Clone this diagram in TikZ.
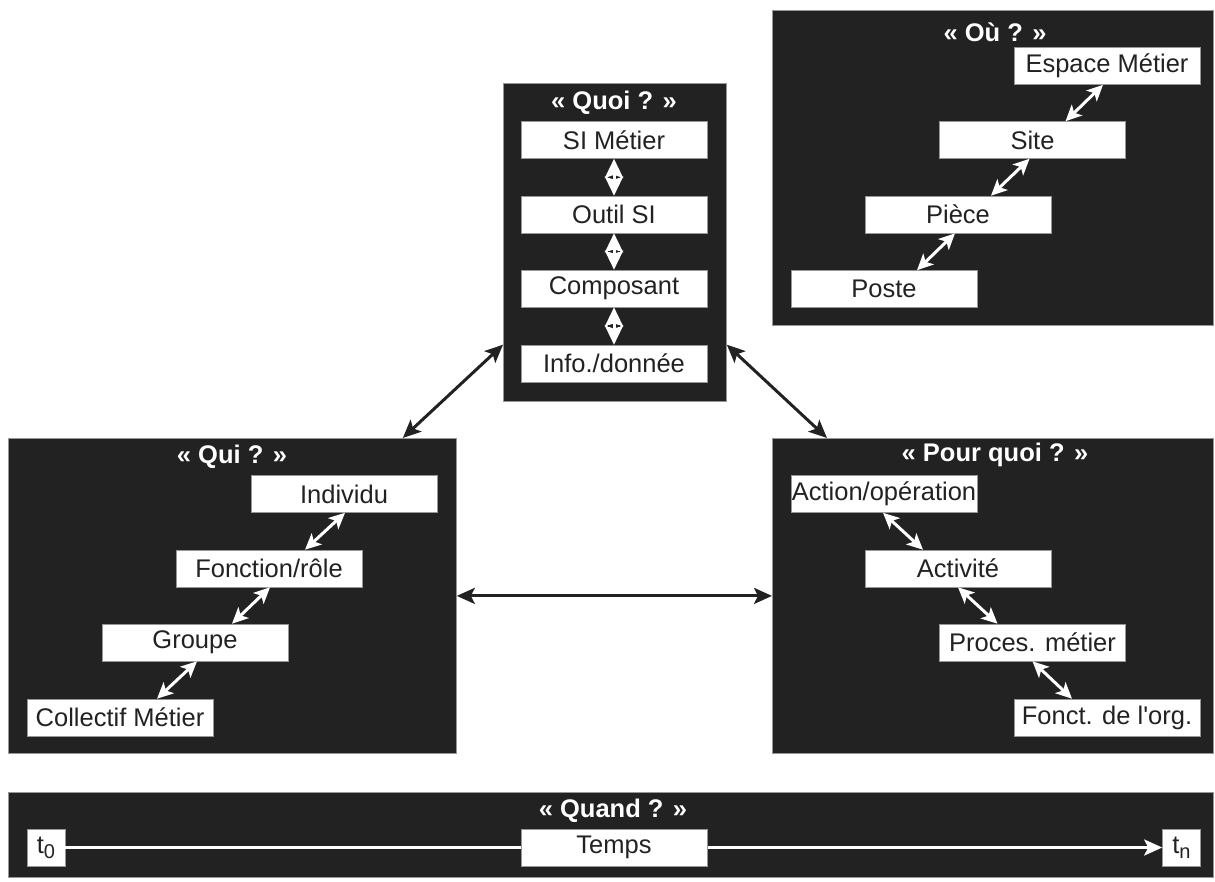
\documentclass[tikz,border=0pt]{standalone}
\usepackage{fontspec}
\setmainfont{Liberation Sans}[Ligatures=TeXOff]
\usetikzlibrary{arrows.meta,calc}
\definecolor{panelc}{RGB}{34,34,34}
\definecolor{edgec}{RGB}{150,150,150}
\begin{document}
\begin{tikzpicture}[x=1pt,y=-1pt,
  panel/.style={fill=panelc,draw=edgec,line width=0.8pt,anchor=north west,inner sep=0pt},
  item/.style={fill=white,draw=edgec,line width=0.6pt,minimum width=186pt,minimum height=37pt,inner sep=0pt,text=panelc,font=\fontsize{25.5}{28}\selectfont},
  tbox/.style={fill=white,draw=edgec,line width=0.6pt,minimum width=38pt,minimum height=37pt,inner sep=0pt,text=panelc,font=\fontsize{25.5}{28}\selectfont},
  ttl/.style={text=white,font=\fontsize{25.5}{28}\selectfont\bfseries,inner sep=0pt},
  warrow/.style={draw=white,line width=3pt,{Stealth[length=16pt,width=15pt,inset=4pt]}-{Stealth[length=16pt,width=15pt,inset=4pt]}},
  wvarrow/.style={draw=white,line width=3pt,{Stealth[length=19pt,width=18pt,inset=3pt]}-{Stealth[length=19pt,width=18pt,inset=3pt]}},
  barrow/.style={draw=panelc,line width=3pt,{Stealth[length=18pt,width=16pt,inset=4pt]}-{Stealth[length=18pt,width=16pt,inset=4pt]}},
  tarrow/.style={draw=white,line width=3pt,-{Stealth[length=18pt,width=16pt,inset=4pt]}},
  dashmark/.style={draw=panelc,line width=1.3pt}
]
\useasboundingbox (0,0) rectangle (1215,881);

% panels
\node[panel,minimum width=223pt,minimum height=318pt] (quoi) at (503,83) {};
\node[panel,minimum width=441pt,minimum height=315pt] (ou) at (772,10) {};
\node[panel,minimum width=448pt,minimum height=315pt] (qui) at (8,438) {};
\node[panel,minimum width=441pt,minimum height=315pt] (pq) at (772,438) {};
\node[panel,minimum width=1205pt,minimum height=85pt] (quand) at (8,792) {};

% titles
\node[ttl] (tquoi) at (614,103) {« Quoi ? »};
\node[ttl] (tou) at (995,32) {« Où ? »};
\node[ttl] (tqui) at (232,457) {« Qui ? »};
\node[ttl] (tpq) at (995,455) {« Pour quoi ? »};
\node[ttl] (tquand) at (613,811) {« Quand ? »};

% Quoi items
\node[item] (si) at (614,140) {SI Métier};
\node[item] (outil) at (614,214.5) {Outil SI};
\node[item] (comp) at (614,288.5) {Composant};
\node[item] (info) at (614,363.5) {Info./donnée};

% Ou items
\node[item] (esp) at (1107,66) {Espace Métier};
\node[item] (site) at (1032.5,140) {Site};
\node[item] (piece) at (958,214.5) {Pièce};
\node[item] (poste) at (884,289) {Poste};

% Qui items
\node[item] (indiv) at (344,494) {Individu};
\node[item] (fonc) at (269,568.5) {Fonction/rôle};
\node[item] (groupe) at (195,642.5) {Groupe};
\node[item] (coll) at (120,717.5) {Collectif Métier};

% Pour quoi items
\node[item] (action) at (884,494) {Action/opération};
\node[item] (activ) at (958,568.5) {Activité};
\node[item] (proces) at (1032.5,642.5) {Proces. métier};
\node[item] (forg) at (1107,717.5) {Fonct. de l'org.};

% Quoi vertical arrows
\foreach \a/\b/\m in {si/outil/m1,outil/comp/m2,comp/info/m3}{
  \draw[wvarrow] (\a.south) -- (\b.north);
  \coordinate (\m) at ($(\a.south)!0.5!(\b.north)$);
  \draw[dashmark] ([xshift=-6pt]\m) -- ([xshift=-2pt]\m) ([xshift=2pt]\m) -- ([xshift=6pt]\m);
}

% Ou diagonal arrows
\draw[warrow] ([xshift=33pt]site.north) -- ([xshift=-4pt]esp.south);
\draw[warrow] ([xshift=33pt]piece.north) -- ([xshift=-3pt]site.south);
\draw[warrow] ([xshift=33pt]poste.north) -- ([xshift=-3pt]piece.south);

% Qui diagonal arrows
\draw[warrow] ([xshift=36pt]fonc.north) -- ([xshift=1pt]indiv.south);
\draw[warrow] ([xshift=37pt]groupe.north) -- ([xshift=1pt]fonc.south);
\draw[warrow] ([xshift=37pt]coll.north) -- ([xshift=2pt]groupe.south);

% Pour quoi diagonal arrows
\draw[warrow] ([xshift=-1pt]action.south) -- ([xshift=-35pt]activ.north);
\draw[warrow] (activ.south) -- ([xshift=-35pt]proces.north);
\draw[warrow] (proces.south) -- ([xshift=-35pt]forg.north);

% panel connectors
\draw[barrow] (quoi.west |- info.north) -- ([xshift=-54pt]qui.north east);
\draw[barrow] (quoi.east |- info.north) -- ([xshift=55pt]pq.north west);
\draw[barrow] (qui.east) -- (pq.west);

% Quand
\node[tbox] (t0) at (46,847.5) {t\raisebox{-5pt}{\fontsize{20}{20}\selectfont 0}};
\node[tbox] (tn) at (1181.5,847.5) {t\raisebox{-5pt}{\fontsize{20}{20}\selectfont n}};
\draw[tarrow] (t0.east) -- (tn.west);
\node[item] (temps) at (614,847.5) {Temps};
\end{tikzpicture}
\end{document}
